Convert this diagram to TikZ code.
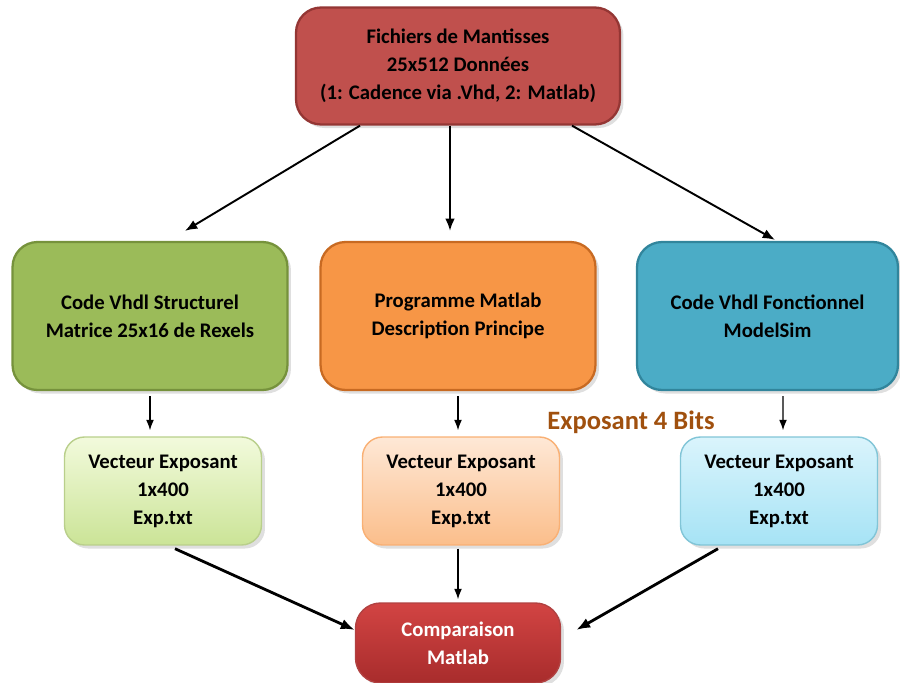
\documentclass[tikz,border=0pt]{standalone}
\usepackage{fontspec}
\setmainfont{Carlito}
\usetikzlibrary{arrows.meta,positioning,calc,shadows}

\definecolor{rougeF}{HTML}{C0504D}
\definecolor{rougeB}{HTML}{943634}
\definecolor{vertF}{HTML}{9BBB59}
\definecolor{vertB}{HTML}{76923C}
\definecolor{orangeF}{HTML}{F79646}
\definecolor{orangeB}{HTML}{C86A22}
\definecolor{bleuF}{HTML}{4BACC6}
\definecolor{bleuB}{HTML}{31859C}
\definecolor{brun}{HTML}{A0500E}
\definecolor{vertH}{HTML}{F2FADC}
\definecolor{vertL}{HTML}{CBE497}
\definecolor{orangeH}{HTML}{FEE8D6}
\definecolor{orangeL}{HTML}{FBBE8B}
\definecolor{bleuH}{HTML}{DAF4FC}
\definecolor{bleuL}{HTML}{A6E3F5}
\definecolor{compH}{HTML}{D24443}
\definecolor{compL}{HTML}{A82C2C}

\begin{document}
\begin{tikzpicture}[x=0.02cm,y=-0.02cm,
  txt/.style={font=\bfseries\fontsize{11.8}{15.9}\selectfont,align=center},
  box/.style={txt,draw,line width=1.3pt,rounded corners=0.5cm,inner sep=0pt,
    drop shadow={opacity=0.25,shadow xshift=2pt,shadow yshift=-2pt}},
  bigbox/.style={box,minimum width=5.5cm,minimum height=2.96cm},
  vecbox/.style={box,line width=0.8pt,rounded corners=0.4cm,minimum width=3.94cm,minimum height=2.16cm},
  fl/.style={-{Latex[length=7pt,width=5.5pt]},line width=1.1pt},
  fls/.style={-{Latex[length=6pt,width=4.5pt]},line width=0.7pt},
  flb/.style={-{Latex[length=8pt,width=6pt]},line width=1.6pt}]
  \useasboundingbox (0,0) rectangle (900,683);

  % boites
  \node[box,fill=rougeF,draw=rougeB,minimum width=6.48cm,minimum height=2.34cm] (fich) at (458,66)
    {Fichiers de Mantisses\\25x512 Données\\(1: Cadence via .Vhd, 2: Matlab)};
  \node[bigbox,fill=vertF,draw=vertB] (struct) at (150,316)
    {Code Vhdl Structurel\\Matrice 25x16 de Rexels};
  \node[bigbox,fill=orangeF,draw=orangeB] (prog) at (458,316)
    {Programme Matlab\\Description Principe};
  \node[bigbox,fill=bleuF,draw=bleuB,minimum width=5.22cm] (fonct) at (767.5,316)
    {Code Vhdl Fonctionnel\\ModelSim};

  \node[vecbox,top color=vertH,bottom color=vertL,draw=vertF!70!white] (vvert) at (163,491)
    {Vecteur Exposant\\1x400\\Exp.txt};
  \node[vecbox,top color=orangeH,bottom color=orangeL,draw=orangeF!75!white] (vorange) at (461,491)
    {Vecteur Exposant\\1x400\\Exp.txt};
  \node[vecbox,top color=bleuH,bottom color=bleuL,draw=bleuF!70!white] (vbleu) at (779,491)
    {Vecteur Exposant\\1x400\\Exp.txt};

  \node[box,text=white,top color=compH,bottom color=compL,draw=compL!90!white,line width=0.8pt,
    minimum width=4.1cm,minimum height=1.6cm] (comp) at (458,643) {Comparaison\\Matlab};

  \node[font=\bfseries\fontsize{15.1}{18}\selectfont,text=brun] (expo) at (631,422) {Exposant 4 Bits};

  % fleches
  \draw[fl] ($(fich.south)+(-98,0)$) -- ($(struct.north)+(35,-10)$);
  \draw[fl] ($(fich.south)+(-8,0)$) -- ($(prog.north)+(-8,-10)$);
  \draw[fl] ($(fich.south)+(114,0)$) -- ($(fonct.north)+(7.5,-1)$);

  \draw[fls] ($(struct.south)+(0,5)$) -- ($(vvert.north)+(-13,-6)$);
  \draw[fls] ($(prog.south)+(0,5)$) -- ($(vorange.north)+(-3,-6)$);
  \draw[fls] ($(fonct.south)+(15.5,5)$) -- ($(vbleu.north)+(4,-6)$);

  \draw[flb] ($(vvert.south)+(12,3)$) -- ($(comp.west)+(0,-13)$);
  \draw[fls] ($(vorange.south)+(-3,3)$) -- ($(comp.north)+(0,-3)$);
  \draw[flb] ($(vbleu.south)+(-61,3)$) -- ($(comp.east)+(15,-13)$);
\end{tikzpicture}
\end{document}
